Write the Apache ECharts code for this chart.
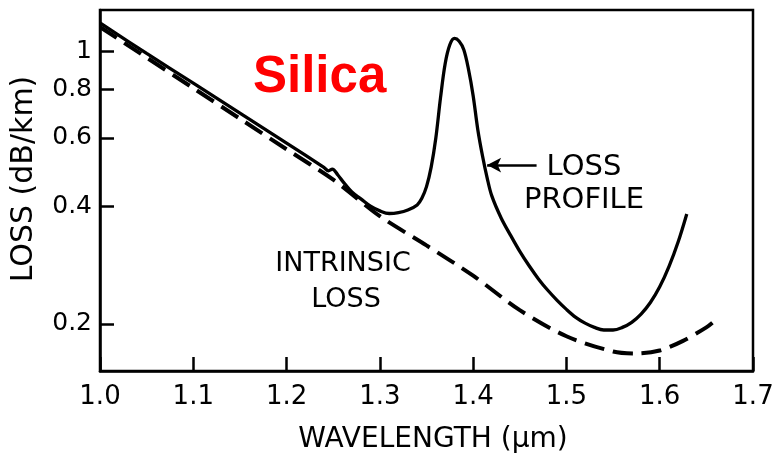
<!DOCTYPE html>
<html><head><meta charset="utf-8">
<script src="https://cdn.jsdelivr.net/npm/echarts@6/dist/echarts.min.js"></script>
<style>html,body{margin:0;padding:0;background:#fff}#c{width:778px;height:462px}</style>
</head><body><div id="c"></div>
<script>
// Loss profile (solid) — wavelength (µm) and loss (dB/km)
const lossWavelength = [1.00,1.05,1.10,1.15,1.20,1.24,1.245,1.249,1.255,1.26,1.27,1.28,1.29,1.30,1.31,1.32,1.33,1.34,1.345,1.35,1.355,1.36,1.365,1.37,1.375,1.38,1.385,1.39,1.395,1.40,1.405,1.41,1.415,1.42,1.43,1.44,1.45,1.46,1.47,1.48,1.49,1.50,1.51,1.52,1.53,1.54,1.55,1.56,1.57,1.58,1.59,1.60,1.61,1.62,1.629];
const lossValues     = [1.183,0.988,0.829,0.695,0.582,0.504,0.494,0.499,0.482,0.465,0.436,0.418,0.401,0.390,0.384,0.386,0.392,0.404,0.420,0.450,0.505,0.60,0.76,0.93,1.04,1.08,1.062,1.01,0.90,0.77,0.63,0.54,0.474,0.426,0.374,0.338,0.307,0.282,0.261,0.244,0.230,0.218,0.208,0.201,0.196,0.193,0.193,0.196,0.202,0.212,0.227,0.249,0.281,0.326,0.383];
// Intrinsic loss (dashed)
const intrinsicWavelength = [1.00,1.05,1.10,1.15,1.20,1.25,1.30,1.35,1.40,1.45,1.50,1.55,1.575,1.60,1.625,1.65,1.657];
const intrinsicValues     = [1.155,0.964,0.805,0.672,0.561,0.469,0.378,0.318,0.266,0.217,0.186,0.170,0.168,0.171,0.181,0.196,0.202];
// Axis ticks
const xTicks = [1.0,1.1,1.2,1.3,1.4,1.5,1.6,1.7];
const yTicks = [0.2,0.4,0.6,0.8,1];
// Arrow annotation (data coords)
const arrowFrom = [1.468, 0.511];
const arrowTo   = [1.415, 0.511];

const FONT = 'DejaVu Sans';
const chart = echarts.init(document.getElementById('c'), null, {renderer:'canvas'});
const pairs = (xs, ys) => xs.map((x,i)=>[x, ys[i]]);

chart.setOption({
  animation:false,
  backgroundColor:'#fff',
  grid:{left:100,right:25,top:10,bottom:91,show:true,borderColor:'#000',borderWidth:2.5,backgroundColor:'transparent'},
  xAxis:{
    type:'value',min:xTicks[0],max:xTicks[xTicks.length-1],interval:0.1,
    axisLine:{lineStyle:{color:'#000',width:2.5}},
    axisTick:{inside:true,length:14,lineStyle:{color:'#000',width:2.5}},
    axisLabel:{color:'#000',fontFamily:FONT,fontSize:26,margin:13,formatter:v=>v.toFixed(1),
      showMinLabel:true,showMaxLabel:true},
    splitLine:{show:false}
  },
  yAxis:{
    type:'log',logBase:10,min:0.1515,max:1.277,
    axisLine:{lineStyle:{color:'#000',width:2.5}},
    axisTick:{inside:true,length:14,customValues:yTicks,lineStyle:{color:'#000',width:2.5}},
    axisLabel:{color:'#000',fontFamily:FONT,fontSize:25,margin:8,customValues:yTicks,
      formatter:v=>String(+(+v).toFixed(2))},
    splitLine:{show:false},minorTick:{show:false}
  },
  series:[
    {type:'line',name:'LOSS PROFILE',data:pairs(lossWavelength,lossValues),showSymbol:false,smooth:0.35,
     lineStyle:{color:'#000',width:3.3},z:3,
     markLine:{silent:true,symbol:['none','arrow'],symbolSize:[11,14],label:{show:false},
       lineStyle:{color:'#000',width:2.5,type:'solid'},
       data:[[{coord:arrowFrom},{coord:arrowTo}]]}},
    {type:'line',name:'INTRINSIC LOSS',data:pairs(intrinsicWavelength,intrinsicValues),showSymbol:false,smooth:0.3,
     lineStyle:{color:'#000',width:4,type:[20,9]},z:2}
  ],
  graphic:[
    {type:'text',x:253,y:78,style:{text:'Silica',fill:'#ff0000',font:'bold 51px "Liberation Sans", Arial, sans-serif',textVerticalAlign:'middle',textAlign:'left'}},
    {type:'text',x:584,y:167,style:{text:'LOSS',fill:'#000',font:'29px "DejaVu Sans"',textAlign:'center',textVerticalAlign:'middle'}},
    {type:'text',x:584,y:200,style:{text:'PROFILE',fill:'#000',font:'29px "DejaVu Sans"',textAlign:'center',textVerticalAlign:'middle'}},
    {type:'text',x:343,y:264,style:{text:'INTRINSIC',fill:'#000',font:'27px "DejaVu Sans"',textAlign:'center',textVerticalAlign:'middle'}},
    {type:'text',x:346,y:300,style:{text:'LOSS',fill:'#000',font:'27px "DejaVu Sans"',textAlign:'center',textVerticalAlign:'middle'}},
    {type:'text',x:24,y:179,rotation:Math.PI/2,style:{text:'LOSS (dB/km)',fill:'#000',font:'30px "DejaVu Sans"',textAlign:'center',textVerticalAlign:'middle'}},
    {type:'text',x:433,y:440,style:{text:'WAVELENGTH (μm)',fill:'#000',font:'28px "DejaVu Sans"',textAlign:'center',textVerticalAlign:'middle'}}
  ]
});
</script>
</body></html>
